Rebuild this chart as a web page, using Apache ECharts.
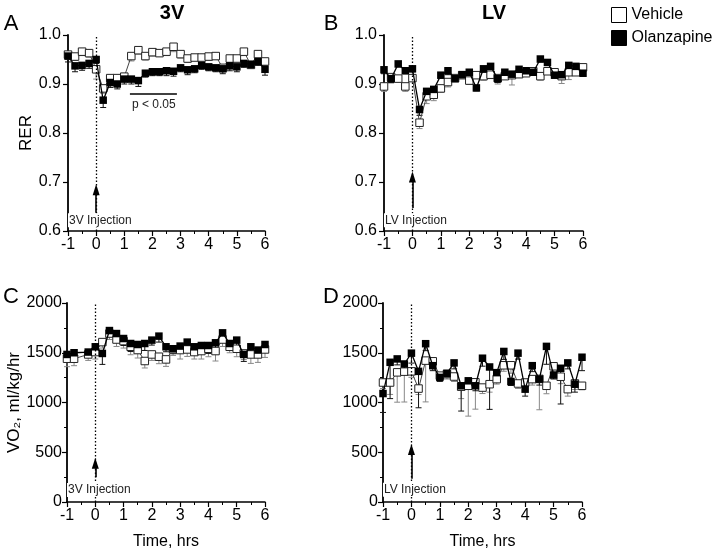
<!DOCTYPE html>
<html>
<head>
<meta charset="utf-8">
<script src="https://cdn.jsdelivr.net/npm/echarts@6/dist/echarts.min.js"></script>
<style>
html,body{margin:0;padding:0;background:#fff;}
#chart{width:720px;height:554px;}
</style>
</head>
<body>
<div id="chart"></div>
<script>
// ---- data ----
const time = [-1,-0.75,-0.5,-0.25,0,0.25,0.5,0.75,1,1.25,1.5,1.75,2,2.25,2.5,2.75,3,3.25,3.5,3.75,4,4.25,4.5,4.75,5,5.25,5.5,5.75,6];
const xTicks = ['-1','0','1','2','3','4','5','6'];

// Panel A: 3V RER
const A_veh     = [0.960,0.956,0.966,0.963,0.930,0.891,0.912,0.912,0.915,0.957,0.969,0.957,0.965,0.963,0.966,0.976,0.961,0.952,0.954,0.954,0.956,0.957,0.933,0.952,0.952,0.966,0.939,0.961,0.946];
const A_veh_err = [0.010,0.008,0.008,0.008,0.020,0.010,0.010,0.010,0.008,0.010,0.008,0.008,0.008,0.006,0.008,0.010,0.008,0.008,0.006,0.006,0.008,0.006,0.006,0.008,0.008,0.008,0.006,0.006,0.008];
const A_ola     = [0.957,0.937,0.938,0.942,0.950,0.867,0.903,0.900,0.910,0.910,0.907,0.922,0.925,0.925,0.927,0.926,0.933,0.929,0.931,0.938,0.935,0.933,0.931,0.937,0.935,0.942,0.940,0.946,0.930];
const A_ola_err = [0.012,0.012,0.010,0.010,0.008,0.015,0.010,0.010,0.010,0.010,0.012,0.008,0.008,0.008,0.010,0.010,0.008,0.010,0.008,0.008,0.008,0.008,0.010,0.010,0.010,0.008,0.008,0.008,0.012];

// Panel B: LV RER
const B_veh     = [0.895,0.914,0.911,0.895,0.912,0.821,0.875,0.878,0.891,0.904,0.912,0.918,0.907,0.918,0.916,0.919,0.912,0.916,0.918,0.920,0.922,0.926,0.916,0.926,0.924,0.916,0.924,0.924,0.934];
const B_veh_err = [0.010,0.012,0.006,0.010,0.006,0.012,0.015,0.012,0.008,0.010,0.006,0.006,0.008,0.006,0.008,0.008,0.012,0.006,0.020,0.006,0.006,0.006,0.008,0.006,0.006,0.015,0.015,0.006,0.006];
const B_ola     = [0.929,0.911,0.941,0.927,0.931,0.848,0.885,0.889,0.918,0.927,0.911,0.919,0.924,0.892,0.931,0.936,0.911,0.924,0.920,0.930,0.927,0.924,0.951,0.944,0.918,0.919,0.938,0.936,0.922];
const B_ola_err = [0.008,0.008,0.006,0.006,0.006,0.012,0.008,0.006,0.006,0.008,0.006,0.006,0.006,0.006,0.006,0.006,0.008,0.006,0.006,0.006,0.006,0.006,0.006,0.006,0.006,0.006,0.006,0.006,0.006];

// Panel C: 3V VO2
const C_veh     = [1440,1440,null,1483,1507,1607,1693,1633,1617,1560,1527,1417,1483,1460,1433,1533,1527,1533,1507,1517,1540,1517,1633,1560,1540,1493,1483,1483,1533];
const C_veh_err = [80,70,0,60,70,60,60,70,70,80,80,70,60,70,70,60,90,70,70,80,80,100,70,60,80,60,90,80,80];
const C_ola     = [1483,1500,null,1507,1560,1493,1723,1693,1643,1593,1583,1593,1627,1667,1560,1540,1567,1607,1560,1573,1573,1600,1700,1593,1627,1483,1560,1527,1583];
const C_ola_err = [60,50,0,50,60,110,50,60,70,80,90,70,50,60,50,50,60,70,60,70,80,60,80,60,80,70,60,60,70];

// Panel D: LV VO2
const D_veh     = [1201,1201,1303,1310,1313,1140,1421,1414,1270,1286,1261,1159,1168,1203,1150,1184,1235,1374,1374,1191,1201,1235,1237,1168,1364,1259,1134,1191,1168];
const D_veh_err = [60,120,300,305,60,60,415,40,40,50,50,120,305,270,60,80,50,60,80,50,50,60,310,80,60,70,70,60,40];
const D_ola     = [1090,1404,1438,1387,1496,1313,1591,1370,1252,1293,1398,1168,1218,1168,1445,1357,1300,1513,1211,1496,1134,1370,1235,1564,1276,1344,1398,1184,1455];
const D_ola_err = [190,365,60,50,100,366,70,50,40,40,60,254,60,50,80,426,50,80,40,60,70,60,60,180,40,359,60,80,135];

// ---- build ----
const FONT = "'Liberation Sans', Arial, sans-serif";
const pairs = (vals) => time.map((t, i) => [t, vals[i]]);
const errTriples = (vals, errs) => time.map((t, i) => [t, vals[i], errs[i]]);

function errSeries(idx, vals, errs, color) {
  return {
    type: 'custom', xAxisIndex: idx, yAxisIndex: idx, z: 1,
    encode: {x: 0, y: 1},
    data: errTriples(vals, errs),
    silent: true,
    renderItem: function (params, api) {
      const x = api.value(0), v = api.value(1), e = api.value(2);
      if (v == null || isNaN(v)) return;
      const p1 = api.coord([x, v]);
      const p2 = api.coord([x, v - e]);
      return {type: 'group', children: [
        {type: 'line', shape: {x1: p1[0], y1: p1[1], x2: p2[0], y2: p2[1]}, style: {stroke: color, lineWidth: 1}},
        {type: 'line', shape: {x1: p2[0] - 3, y1: p2[1], x2: p2[0] + 3, y2: p2[1]}, style: {stroke: color, lineWidth: 1}}
      ]};
    }
  };
}

function vehSeries(idx, vals) {
  return {
    name: 'Vehicle', type: 'line', xAxisIndex: idx, yAxisIndex: idx, z: 3,
    data: pairs(vals), connectNulls: true, symbol: 'rect', symbolSize: 7.5, showAllSymbol: true,
    itemStyle: {color: '#fff', borderColor: '#222', borderWidth: 1},
    lineStyle: {color: '#444', width: 1}
  };
}

function olaSeries(idx, vals, marks) {
  return {
    name: 'Olanzapine', type: 'line', xAxisIndex: idx, yAxisIndex: idx, z: 4,
    data: pairs(vals), connectNulls: true, symbol: 'rect', symbolSize: 7.5, showAllSymbol: true,
    itemStyle: {color: '#000'},
    lineStyle: {color: '#000', width: 1.3},
    markLine: marks.markLine,
    markPoint: marks.markPoint
  };
}

function annotations(ymin, ymax, arrowFrom, arrowTo, textY, text, extraLines, extraPoints) {
  const lines = [
    [{coord: [0, ymin], symbol: 'none'}, {coord: [0, ymax], symbol: 'none', lineStyle: {type: [1.5, 2], color: '#000', width: 1.3}}],
    [{coord: [0, arrowFrom], symbol: 'none'}, {coord: [0, arrowTo], symbol: 'triangle', symbolSize: [7, 11], lineStyle: {type: 'solid', color: '#000', width: 1.6}}]
  ].concat(extraLines || []);
  const points = [
    {coord: [-1, textY], value: text, symbolSize: 0,
     label: {show: true, position: 'right', distance: 0, formatter: text, color: '#222', fontSize: 12, fontFamily: FONT, backgroundColor: '#fff', padding: [1, 1]}}
  ].concat(extraPoints || []);
  return {
    markLine: {silent: true, animation: false, symbol: ['none', 'none'], label: {show: false},
               lineStyle: {color: '#000'}, data: lines},
    markPoint: {silent: true, animation: false, symbol: 'rect', symbolSize: 0, data: points}
  };
}

const grids = [
  {left: 68, top: 35, width: 197, height: 196},
  {left: 384, top: 35, width: 199, height: 196},
  {left: 67, top: 303, width: 198, height: 199},
  {left: 383, top: 303, width: 199, height: 199}
];

function xAxis(idx, withName) {
  return {
    type: 'value', gridIndex: idx, min: -1, max: 6, interval: 1,
    name: withName ? 'Time, hrs' : '', nameLocation: 'middle', nameGap: 32,
    nameTextStyle: {fontSize: 16, color: '#000', fontFamily: FONT},
    axisLine: {show: true, onZero: false, lineStyle: {color: '#000', width: 1.5}},
    axisTick: {show: true, length: 5, lineStyle: {color: '#000', width: 1.2}},
    minorTick: {show: true, splitNumber: 2, length: 3, lineStyle: {color: '#000', width: 1}},
    splitLine: {show: false},
    axisLabel: {fontSize: 16, color: '#000', fontFamily: FONT, margin: 6,
                formatter: (v) => xTicks[Math.round(v) + 1]}
  };
}

function yAxisRER(idx, withName) {
  return {
    type: 'value', gridIndex: idx, min: 0.6, max: 1.0, interval: 0.1,
    name: withName ? 'RER' : '', nameLocation: 'middle', nameGap: 33,
    nameTextStyle: {fontSize: 17, color: '#000', fontFamily: FONT},
    axisLine: {show: true, onZero: false, lineStyle: {color: '#000', width: 1.8}},
    axisTick: {show: true, length: 5, lineStyle: {color: '#000', width: 1.2}},
    splitLine: {show: false},
    axisLabel: {fontSize: 16, color: '#000', fontFamily: FONT, margin: 7, formatter: (v) => v.toFixed(1)}
  };
}

function yAxisVO2(idx, withName) {
  return {
    type: 'value', gridIndex: idx, min: 0, max: 2000, interval: 500,
    name: withName ? 'VO₂, ml/kg/hr' : '', nameLocation: 'middle', nameGap: 40,
    nameTextStyle: {fontSize: 17, color: '#000', fontFamily: FONT},
    axisLine: {show: true, onZero: false, lineStyle: {color: '#000', width: 1.8}},
    axisTick: {show: true, length: 5, lineStyle: {color: '#000', width: 1.2}},
    minorTick: {show: true, splitNumber: 2, length: 3, lineStyle: {color: '#000', width: 1}},
    splitLine: {show: false},
    axisLabel: {fontSize: 16, color: '#000', fontFamily: FONT, margin: 5, formatter: (v) => String(v)}
  };
}

const annA = annotations(0.6, 1.0, 0.637, 0.684, 0.622, '3V Injection',
  [[{coord: [1.2, 0.88], symbol: 'none'}, {coord: [2.87, 0.88], symbol: 'none', lineStyle: {type: 'solid', color: '#000', width: 1.5}}]],
  [{coord: [2.05, 0.858], value: 'p < 0.05', symbolSize: 0,
    label: {show: true, position: 'inside', formatter: 'p < 0.05', color: '#222', fontSize: 12, fontFamily: FONT}}]);
const annB = annotations(0.6, 1.0, 0.647, 0.71, 0.622, 'LV Injection');
const annC = annotations(0, 2000, 250, 390, 120, '3V Injection');
const annD = annotations(0, 2000, 233, 528, 122, 'LV Injection');

function gText(text, x, y, size, bold) {
  return {type: 'text', x: x, y: y, silent: true,
          style: {text: text, fontSize: size, fontWeight: bold ? 'bold' : 'normal', fontFamily: FONT, fill: '#000',
                  align: 'center', verticalAlign: 'middle'}};
}

const option = {
  animation: false,
  backgroundColor: '#fff',
  grid: grids,
  xAxis: [xAxis(0, false), xAxis(1, false), xAxis(2, true), xAxis(3, true)],
  yAxis: [yAxisRER(0, true), yAxisRER(1, false), yAxisVO2(2, true), yAxisVO2(3, false)],
  legend: {
    orient: 'vertical', left: 611, top: 7, itemWidth: 15, itemHeight: 15, itemGap: 7,
    selectedMode: false, padding: 0,
    textStyle: {fontSize: 16, color: '#000', fontFamily: FONT},
    data: [
      {name: 'Vehicle', icon: 'rect', itemStyle: {color: '#fff', borderColor: '#000', borderWidth: 1}},
      {name: 'Olanzapine', icon: 'rect', itemStyle: {color: '#000', borderColor: '#000', borderWidth: 1}}
    ]
  },
  graphic: [
    gText('3V', 172, 13, 20, true),
    gText('LV', 494, 13, 20, true),
    gText('A', 11, 24, 22, false),
    gText('B', 331, 24, 22, false),
    gText('C', 11, 297, 22, false),
    gText('D', 331, 297, 22, false)
  ],
  series: [
    errSeries(0, A_veh, A_veh_err, '#888'), errSeries(0, A_ola, A_ola_err, '#111'),
    vehSeries(0, A_veh), olaSeries(0, A_ola, annA),
    errSeries(1, B_veh, B_veh_err, '#888'), errSeries(1, B_ola, B_ola_err, '#111'),
    vehSeries(1, B_veh), olaSeries(1, B_ola, annB),
    errSeries(2, C_veh, C_veh_err, '#888'), errSeries(2, C_ola, C_ola_err, '#111'),
    vehSeries(2, C_veh), olaSeries(2, C_ola, annC),
    errSeries(3, D_veh, D_veh_err, '#888'), errSeries(3, D_ola, D_ola_err, '#111'),
    vehSeries(3, D_veh), olaSeries(3, D_ola, annD)
  ]
};

const chart = echarts.init(document.getElementById('chart'), null, {renderer: 'canvas'});
chart.setOption(option);
</script>
</body>
</html>
